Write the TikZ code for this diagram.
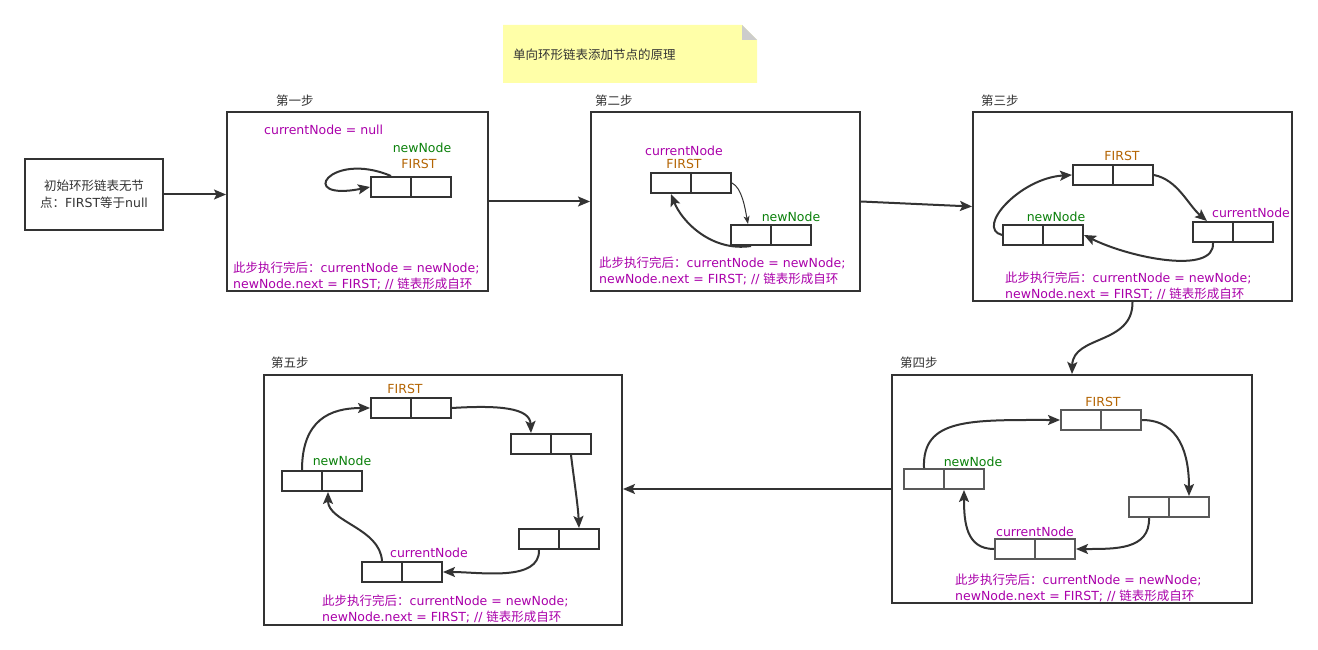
\documentclass[tikz,border=0pt]{standalone}
\usepackage{fontspec}
\setmainfont{DejaVu Sans}
\newfontfamily\cjk{Noto Sans CJK SC}
\usetikzlibrary{arrows.meta}
\definecolor{ink}{HTML}{333333}
\definecolor{purp}{HTML}{AA00AA}
\definecolor{grn}{HTML}{0A800A}
\definecolor{orng}{HTML}{B46504}
\definecolor{noteY}{HTML}{FFFFA8}
\definecolor{noteG}{HTML}{CCCCCC}
\tikzset{
  stepbox/.style={draw=ink, line width=2pt, inner sep=0pt},
  cell/.style={draw=ink, line width=2pt, minimum width=40pt, minimum height=20pt, inner sep=0pt},
  gcell/.style={cell, draw=black!65},
  lbl/.style={font=\fontsize{12.5}{15}\selectfont, inner sep=0pt},
  pl/.style={lbl, text=purp},
  gl/.style={lbl, text=grn},
  ol/.style={lbl, text=orng},
  tl/.style={lbl, text=ink},
  bt/.style={lbl, text=purp, align=left, anchor=west, font=\fontsize{12.5}{16}\selectfont},
  arr/.style={draw=ink, line width=2pt, -{Stealth[length=12pt,width=10pt,inset=2.5pt]}},
  tarr/.style={draw=ink, line width=1pt, -{Stealth[length=8pt,width=6pt,inset=2pt]}},
}
\begin{document}
\begin{tikzpicture}[x=1pt,y=-1pt]
\useasboundingbox (0,0) rectangle (1318,650);
\fill[white] (0,0) rectangle (1318,650);

% note
\fill[noteY] (503,25) -- (742,25) -- (757,40) -- (757,83) -- (503,83) -- cycle;
\fill[noteG] (742,25) -- (757,40) -- (742,40) -- cycle;
\node[tl, anchor=west] (note) at (513,55) {{\cjk 单向环形链表添加节点的原理}};

% initial box
\node[stepbox, minimum width=138pt, minimum height=71pt, align=center, text=ink, font=\fontsize{12.5}{17}\selectfont] (init) at (94,194.5) {{\cjk 初始环形链表无节}\\{\cjk 点：}FIRST{\cjk 等于}null};

% step boxes
\node[stepbox, minimum width=261pt, minimum height=179pt] (s1box) at (357.5,201.5) {};
\node[stepbox, minimum width=269pt, minimum height=179pt] (s2box) at (725.5,201.5) {};
\node[stepbox, minimum width=319pt, minimum height=189pt] (s3box) at (1132.5,206.5) {};
\node[stepbox, minimum width=360pt, minimum height=228pt] (s4box) at (1072,489) {};
\node[stepbox, minimum width=358pt, minimum height=250pt] (s5box) at (443,500) {};

% step titles
\node[tl, anchor=west] (t1) at (276,101) {{\cjk 第一步}};
\node[tl, anchor=west] (t2) at (595,101) {{\cjk 第二步}};
\node[tl, anchor=west] (t3) at (981,101) {{\cjk 第三步}};
\node[tl, anchor=west] (t4) at (900,363) {{\cjk 第四步}};
\node[tl, anchor=west] (t5) at (271,363) {{\cjk 第五步}};

% links between steps
\draw[arr] (init.east) -- (init.east -| s1box.west);
\draw[arr] (s1box.east) -- (s2box.west);
\draw[arr] (s2box.east) -- (s3box.west);
\draw[arr] (s3box.south) .. controls (1133,345) and (1073,335) .. (s4box.north);
\draw[arr] (s4box.west) -- (s4box.west -| s5box.east);

% ---------- step 1
\node[pl, anchor=west] (c1) at (264,130) {currentNode = null};
\node[gl] (n1) at (422,148) {newNode};
\node[ol] (f1) at (419,164) {FIRST};
\node[cell] (s1a) at (391,187) {};
\node[cell] (s1b) at (431,187) {};
\draw[arr] (s1a.north) .. controls (330,150) and (295,202) .. (s1a.west);
\node[bt] (b1) at (233,275.5) {{\cjk 此步执行完后：}currentNode = newNode;\\newNode.next = FIRST; // {\cjk 链表形成自环}};

% ---------- step 2
\node[pl] (c2) at (684,151) {currentNode};
\node[ol] (f2) at (684,164) {FIRST};
\node[gl] (n2) at (791,217) {newNode};
\node[cell] (s2a) at (671,183) {};
\node[cell] (s2b) at (711,183) {};
\node[cell] (s2c) at (751,235) {};
\node[cell] (s2d) at (791,235) {};
\draw[tarr] (s2b.east) .. controls (742,188) and (745,208) .. ([xshift=-3pt]s2c.north);
\draw[arr] (s2c.south) .. controls (712,252) and (682,222) .. (s2a.south);
\node[bt] (b2) at (599,271) {{\cjk 此步执行完后：}currentNode = newNode;\\newNode.next = FIRST; // {\cjk 链表形成自环}};

% ---------- step 3
\node[ol] (f3) at (1122,156) {FIRST};
\node[gl] (n3) at (1056,217) {newNode};
\node[pl] (c3) at (1251,213) {currentNode};
\node[cell] (s3a) at (1093,175) {};
\node[cell] (s3b) at (1133,175) {};
\node[cell] (s3c) at (1023,235) {};
\node[cell] (s3d) at (1063,235) {};
\node[cell] (s3e) at (1213,232) {};
\node[cell] (s3f) at (1253,232) {};
\draw[arr] (s3b.east) .. controls (1178,180) and (1188,205) .. ([xshift=-6pt]s3e.north);
\draw[arr] (s3e.south) .. controls (1215,275) and (1130,258) .. (s3d.east);
\draw[arr] (s3c.west) .. controls (975,228) and (1020,178) .. (s3a.west);
\node[bt] (b3) at (1005,285.5) {{\cjk 此步执行完后：}currentNode = newNode;\\newNode.next = FIRST; // {\cjk 链表形成自环}};

% ---------- step 4
\node[ol] (f4) at (1103,402) {FIRST};
\node[gl] (n4) at (973,462) {newNode};
\node[pl] (c4) at (1035,532) {currentNode};
\node[gcell] (s4a) at (1081,420) {};
\node[gcell] (s4b) at (1121,420) {};
\node[gcell] (s4c) at (924,479) {};
\node[gcell] (s4d) at (964,479) {};
\node[gcell] (s4e) at (1149,507) {};
\node[gcell] (s4f) at (1189,507) {};
\node[gcell] (s4g) at (1015,549) {};
\node[gcell] (s4h) at (1055,549) {};
\draw[arr] (s4c.north) .. controls (922,418) and (970,420) .. (s4a.west);
\draw[arr] (s4b.east) .. controls (1180,420) and (1189,455) .. (s4f.north);
\draw[arr] (s4e.south) .. controls (1150,550) and (1115,549) .. (s4h.east);
\draw[arr] (s4g.west) .. controls (966,549) and (964,522) .. (s4d.south);
\node[bt] (b4) at (955,588) {{\cjk 此步执行完后：}currentNode = newNode;\\newNode.next = FIRST; // {\cjk 链表形成自环}};

% ---------- step 5
\node[ol] (f5) at (405,389) {FIRST};
\node[gl] (n5) at (342,461) {newNode};
\node[pl] (c5) at (429,553) {currentNode};
\node[cell] (s5a) at (391,408) {};
\node[cell] (s5b) at (431,408) {};
\node[cell] (s5c) at (531,444) {};
\node[cell] (s5d) at (571,444) {};
\node[cell] (s5e) at (539,539) {};
\node[cell] (s5f) at (579,539) {};
\node[cell] (s5g) at (382,572) {};
\node[cell] (s5h) at (422,572) {};
\node[cell] (s5i) at (302,481) {};
\node[cell] (s5j) at (342,481) {};
\draw[arr] (s5b.east) .. controls (500,405) and (530,408) .. (s5c.north);
\draw[arr] (s5d.south) .. controls (574,480) and (578,505) .. (s5f.north);
\draw[arr] (s5e.south) .. controls (540,582) and (480,572) .. (s5h.east);
\draw[arr] (s5g.north) .. controls (380,528) and (328,522) .. ([xshift=-14pt]s5j.south);
\draw[arr] (s5i.north) .. controls (302,420) and (330,408) .. (s5a.west);
\node[bt] (b5) at (322,609) {{\cjk 此步执行完后：}currentNode = newNode;\\newNode.next = FIRST; // {\cjk 链表形成自环}};
\end{tikzpicture}
\end{document}
